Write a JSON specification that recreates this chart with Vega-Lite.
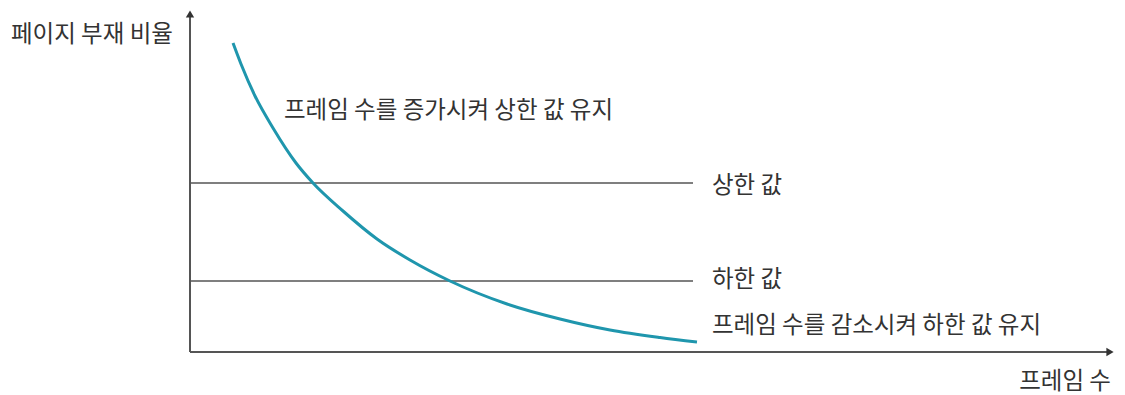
{
  "$schema": "https://vega.github.io/schema/vega-lite/v6.json",
  "width": 1125,
  "height": 395,
  "autosize": {"type": "fit", "contains": "padding"},
  "padding": 0,
  "background": "white",
  "config": {"view": {"stroke": null}},
  "datasets": {
    "axes": [
      {"x": 0, "y": 0, "x2": 0, "y2": 340},
      {"x": 0, "y": 0, "x2": 920, "y2": 0}
    ],
    "limits": [
      {"x": 0, "y": 169, "x2": 503, "y2": 169, "limit": "상한 값"},
      {"x": 0, "y": 71, "x2": 503, "y2": 71, "limit": "하한 값"}
    ],
    "curve": [
      {"frames": 43, "rate": 309},
      {"frames": 51, "rate": 288},
      {"frames": 65, "rate": 256},
      {"frames": 83, "rate": 224},
      {"frames": 106, "rate": 189},
      {"frames": 123, "rate": 169},
      {"frames": 153, "rate": 141},
      {"frames": 187, "rate": 113},
      {"frames": 220, "rate": 92},
      {"frames": 260, "rate": 71},
      {"frames": 317, "rate": 48},
      {"frames": 370, "rate": 33},
      {"frames": 420, "rate": 22},
      {"frames": 470, "rate": 14.5},
      {"frames": 507, "rate": 10}
    ],
    "labelsLeft": [
      {"x": -179, "y": 317, "label": "페이지 부재 비율"},
      {"x": 94, "y": 241, "label": "프레임 수를 증가시켜 상한 값 유지"},
      {"x": 522, "y": 166, "label": "상한 값"},
      {"x": 522, "y": 72, "label": "하한 값"},
      {"x": 522, "y": 26, "label": "프레임 수를 감소시켜 하한 값 유지"}
    ],
    "labelsRight": [
      {"x": 921, "y": -30, "label": "프레임 수"}
    ],
    "arrowUp": [{"x": 0, "y": 338}],
    "arrowRight": [{"x": 920, "y": 0}]
  },
  "layer": [
    {
      "data": {"name": "limits"},
      "mark": {"type": "rule", "color": "#555555", "strokeWidth": 1.5},
      "encoding": {
        "x": {"field": "x", "type": "quantitative", "scale": {"domain": [-190, 935], "nice": false, "zero": false}, "axis": null},
        "x2": {"field": "x2"},
        "y": {"field": "y", "type": "quantitative", "scale": {"domain": [-43, 352], "nice": false, "zero": false}, "axis": null},
        "y2": {"field": "y2"}
      }
    },
    {
      "data": {"name": "axes"},
      "mark": {"type": "rule", "color": "#555555", "strokeWidth": 2},
      "encoding": {
        "x": {"field": "x", "type": "quantitative"},
        "x2": {"field": "x2"},
        "y": {"field": "y", "type": "quantitative"},
        "y2": {"field": "y2"}
      }
    },
    {
      "data": {"name": "arrowUp"},
      "mark": {"type": "point", "shape": "triangle-up", "filled": true, "color": "#333333", "size": 70, "opacity": 1},
      "encoding": {
        "x": {"field": "x", "type": "quantitative"},
        "y": {"field": "y", "type": "quantitative"}
      }
    },
    {
      "data": {"name": "arrowRight"},
      "mark": {"type": "point", "shape": "triangle-right", "filled": true, "color": "#333333", "size": 70, "opacity": 1},
      "encoding": {
        "x": {"field": "x", "type": "quantitative"},
        "y": {"field": "y", "type": "quantitative"}
      }
    },
    {
      "data": {"name": "curve"},
      "mark": {"type": "line", "interpolate": "monotone", "color": "#1f96ad", "strokeWidth": 3},
      "encoding": {
        "x": {"field": "frames", "type": "quantitative"},
        "y": {"field": "rate", "type": "quantitative"}
      }
    },
    {
      "data": {"name": "labelsLeft"},
      "mark": {"type": "text", "align": "left", "baseline": "middle", "font": "Noto Sans CJK KR", "fontSize": 23.5, "color": "#333333"},
      "encoding": {
        "x": {"field": "x", "type": "quantitative"},
        "y": {"field": "y", "type": "quantitative"},
        "text": {"field": "label"}
      }
    },
    {
      "data": {"name": "labelsRight"},
      "mark": {"type": "text", "align": "right", "baseline": "middle", "font": "Noto Sans CJK KR", "fontSize": 23.5, "color": "#333333"},
      "encoding": {
        "x": {"field": "x", "type": "quantitative"},
        "y": {"field": "y", "type": "quantitative"},
        "text": {"field": "label"}
      }
    }
  ]
}
